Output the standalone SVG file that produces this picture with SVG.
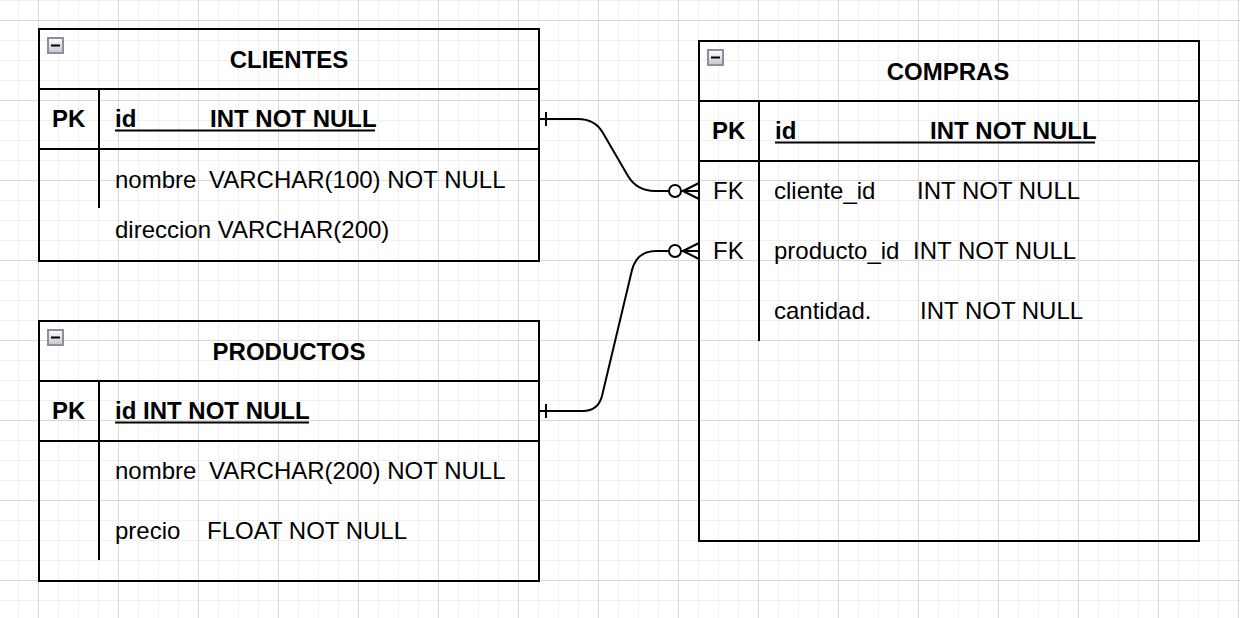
<svg xmlns="http://www.w3.org/2000/svg" width="1240" height="618" viewBox="0 0 1240 618">
<defs>
<pattern id="grid" patternUnits="userSpaceOnUse" x="0" y="0" width="80" height="80">
<path d="M18.5 0V80M58.5 0V80M78.5 0V80M0 0.5H80M0 40.5H80M0 60.5H80" stroke="#f0f0f0" stroke-width="1" fill="none"/>
<path d="M38.5 0V80M0 20.5H80" stroke="#d9d9d9" stroke-width="1" fill="none"/>
</pattern>
<linearGradient id="icoGrad" x1="0" y1="0" x2="0" y2="1">
<stop offset="0" stop-color="#ffffff"/>
<stop offset="1" stop-color="#c4c6cc"/>
</linearGradient>
<g id="collapse">
<rect x="1" y="1" width="15" height="15" fill="url(#icoGrad)" stroke="#8a909c" stroke-width="2"/>
<path d="M4 8.5H13" stroke="#000" stroke-width="2"/>
</g>
<marker id="one" markerUnits="userSpaceOnUse" markerWidth="20" markerHeight="20" refX="0" refY="10" orient="auto" overflow="visible">
<path d="M7 3V17" stroke="#000" stroke-width="2" fill="none"/>
</marker>
<marker id="zeroMany" markerUnits="userSpaceOnUse" markerWidth="32" markerHeight="20" refX="30" refY="10" orient="auto" overflow="visible">
<path d="M14 10L30 2M14 10H30M14 10L30 18" stroke="#000" stroke-width="2" fill="none"/>
<circle cx="6" cy="10" r="6" fill="#fff" stroke="#000" stroke-width="2"/>
</marker>
</defs>
<style>
.box{fill:none;stroke:#000;stroke-width:2}
.sep{stroke:#000;stroke-width:2;fill:none}
.t{font-family:"Liberation Sans",Arial,Helvetica,sans-serif;font-size:24px;fill:#000}
.b{font-weight:bold}
.mid{text-anchor:middle}
.ul{stroke:#000;stroke-width:2}
.conn{fill:none;stroke:#000;stroke-width:2}
</style>
<rect x="0" y="0" width="1240" height="618" fill="#fff"/>
<rect x="0" y="0" width="1240" height="618" fill="url(#grid)"/>

<g id="connectors">
<path class="conn" d="M539 119H578Q595 119 603 133L628 176Q637 191 655 191H699" marker-start="url(#one)" marker-end="url(#zeroMany)"/>
<path class="conn" d="M539 411H583Q598 411 602 396L632 270Q637 251 656 251H699" marker-start="url(#one)" marker-end="url(#zeroMany)"/>
</g>

<g id="clientes">
<rect class="box" x="39" y="29" width="500" height="232"/>
<use href="#collapse" x="47" y="37"/>
<path class="sep" d="M39 89H539M39 149H539M99 89V208"/>
<text class="t b mid" x="289" y="68">CLIENTES</text>
<text class="t b" x="52" y="127">PK</text>
<text class="t b" x="115" y="127">id</text>
<text class="t b" x="210" y="127">INT NOT NULL</text>
<line class="ul" x1="115" y1="130.5" x2="375" y2="130.5"/>
<text class="t" x="115" y="188">nombre</text>
<text class="t" x="209" y="188">VARCHAR(100) NOT NULL</text>
<text class="t" x="115" y="238">direccion VARCHAR(200)</text>
</g>

<g id="productos">
<rect class="box" x="39" y="321" width="500" height="260"/>
<use href="#collapse" x="47" y="329"/>
<path class="sep" d="M39 381H539M39 441H539M99 381V560"/>
<text class="t b mid" x="289" y="360">PRODUCTOS</text>
<text class="t b" x="52" y="419">PK</text>
<text class="t b" x="115" y="419">id INT NOT NULL</text>
<line class="ul" x1="115" y1="422.5" x2="309" y2="422.5"/>
<text class="t" x="115" y="479">nombre</text>
<text class="t" x="209" y="479">VARCHAR(200) NOT NULL</text>
<text class="t" x="115" y="539">precio</text>
<text class="t" x="207" y="539">FLOAT NOT NULL</text>
</g>

<g id="compras">
<rect class="box" x="699" y="41" width="500" height="500"/>
<use href="#collapse" x="707" y="49"/>
<path class="sep" d="M699 101H1199M699 161H1199M759 101V341"/>
<text class="t b mid" x="948" y="80">COMPRAS</text>
<text class="t b" x="712" y="139">PK</text>
<text class="t b" x="775" y="139">id</text>
<text class="t b" x="930" y="139">INT NOT NULL</text>
<line class="ul" x1="775" y1="142.5" x2="1095" y2="142.5"/>
<text class="t" x="713" y="199">FK</text>
<text class="t" x="774" y="199">cliente_id</text>
<text class="t" x="917" y="199">INT NOT NULL</text>
<text class="t" x="713" y="259">FK</text>
<text class="t" x="774" y="259">producto_id</text>
<text class="t" x="913" y="259">INT NOT NULL</text>
<text class="t" x="774" y="319">cantidad.</text>
<text class="t" x="920" y="319">INT NOT NULL</text>
</g>
</svg>
